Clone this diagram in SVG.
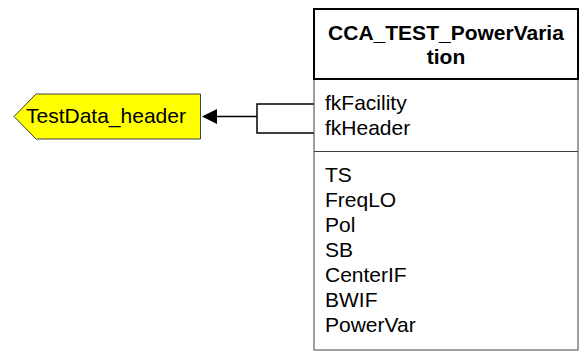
<svg xmlns="http://www.w3.org/2000/svg" width="582" height="354" viewBox="0 0 582 354">
<defs>
<style>
.t{font-family:"Liberation Sans",Arial,sans-serif;font-size:21px;fill:#000}
.h{font-family:"Liberation Sans",Arial,sans-serif;font-size:21px;font-weight:bold;fill:#000;text-anchor:middle}
.ln{fill:none;stroke:#000;stroke-width:1.5}
</style>
</defs>
<rect width="582" height="354" fill="#fff"/>
<g id="connectors">
<path class="ln" d="M314,104 H257 V133 H314 M257,116.5 H217"/>
<path d="M202,116.5 L217,109 L217,124 Z" fill="#000"/>
</g>
<g id="TestData_header">
<polygon points="14,116.5 36,94 200.5,94 200.5,139 36,139" fill="#ffff00" stroke="#404040" stroke-width="1"/>
<text class="t" x="26" y="123">TestData_header</text>
</g>
<g id="CCA_TEST_PowerVariation">
<rect x="314" y="79" width="264" height="271" fill="#fff" stroke="#404040" stroke-width="1"/>
<line x1="314" y1="151.5" x2="578" y2="151.5" stroke="#404040" stroke-width="1"/>
<rect x="314" y="9" width="264" height="70" fill="#fff" stroke="#000" stroke-width="2"/>
<text class="h" x="446" y="39.5">CCA_TEST_PowerVaria</text>
<text class="h" x="446" y="63.5">tion</text>
<text class="t" x="325" y="110">fkFacility</text>
<text class="t" x="325" y="135">fkHeader</text>
<text class="t" x="325" y="181.7">TS</text>
<text class="t" x="325" y="206.7">FreqLO</text>
<text class="t" x="325" y="231.7">Pol</text>
<text class="t" x="325" y="256.7">SB</text>
<text class="t" x="325" y="281.7">CenterIF</text>
<text class="t" x="325" y="306.7">BWIF</text>
<text class="t" x="325" y="331.7">PowerVar</text>
</g>
</svg>
